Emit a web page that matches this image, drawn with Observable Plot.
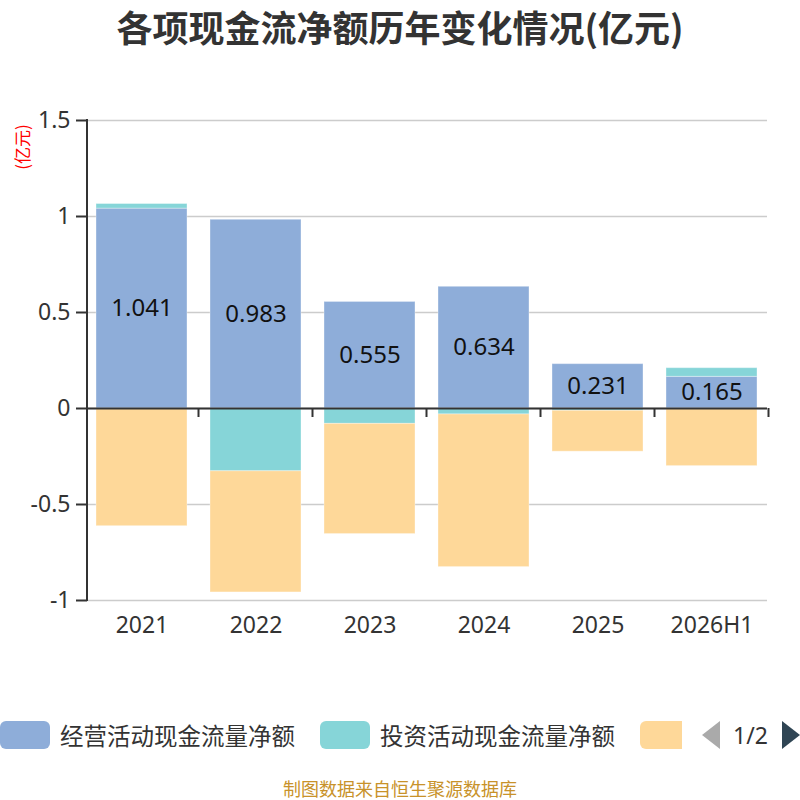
<!DOCTYPE html>
<html>
<head>
<meta charset="utf-8">
<script src="https://cdn.jsdelivr.net/npm/d3@7"></script>
<script src="https://cdn.jsdelivr.net/npm/@observablehq/plot@0.6"></script>
<style>
  body { margin: 0; background: #fff; font-family: "Noto Sans", "Noto Sans CJK SC", sans-serif; }
  #wrap { position: relative; width: 800px; height: 800px; overflow: hidden; }
  #title { position: absolute; top: 0px; left: 0; width: 800px; text-align: center; font-size: 36px; line-height: 52px; font-weight: bold; color: #333; font-family: "Noto Sans CJK SC", sans-serif; }
  #chart { position: absolute; top: 60px; left: 0; }
  #unit { position: absolute; left: 22px; top: 147px; transform: translate(-50%, -50%) rotate(-90deg); color: #f00; font-size: 17px; line-height: 18px; white-space: nowrap; font-family: "Noto Sans CJK SC", sans-serif; }
  #legend { position: absolute; top: 721px; left: 0; width: 800px; height: 28px; font-family: "Noto Sans CJK SC", sans-serif; font-size: 23.5px; color: #333; }
  .item { position: absolute; top: 0; display: flex; align-items: center; height: 28px; white-space: nowrap; }
  .sw { width: 50px; height: 28px; border-radius: 6px; margin-right: 10px; flex: none; }
  #pager { position: absolute; top: 0; left: 702px; height: 28px; display: flex; align-items: center; font-size: 23px; color: #333; font-family: "Noto Sans", sans-serif; }
  #source { position: absolute; top: 778px; left: 0; width: 800px; text-align: center; font-size: 18px; line-height: 20px; color: #c8922a; font-family: "Noto Sans CJK SC", sans-serif; }
</style>
</head>
<body>
<div id="wrap">
  <div id="title"></div>
  <div id="unit"></div>
  <div id="chart"></div>
  <div id="legend"></div>
  <div id="source"></div>
</div>
<script>
const titleText = "各项现金流净额历年变化情况(亿元)";
const unitText = "(亿元)";
const sourceText = "制图数据来自恒生聚源数据库";
const years = ["2021", "2022", "2023", "2024", "2025", "2026H1"];
const seriesNames = ["经营活动现金流量净额", "投资活动现金流量净额", "筹资活动现金流量净额"];
const seriesColors = ["#8eadd9", "#86d5d8", "#fed899"];
const operating = [1.041, 0.983, 0.555, 0.634, 0.231, 0.165];
const investing = [0.024, -0.327, -0.080, -0.031, -0.012, 0.045];
const financing = [-0.613, -0.631, -0.574, -0.795, -0.213, -0.300];
const yTicks = [1.5, 1, 0.5, 0, -0.5, -1];
// legend page 1 of 2: the third entry only shows its swatch
const legendLabelsShown = [true, true, false];

const seriesValues = [operating, investing, financing];
const rows = [];
seriesNames.forEach((s, si) => years.forEach((yr, i) => rows.push({year: yr, series: s, value: seriesValues[si][i]})));
const opRows = years.map((yr, i) => ({year: yr, series: seriesNames[0], value: operating[i]}));

document.getElementById("title").textContent = titleText;
document.getElementById("unit").textContent = unitText;
document.getElementById("source").textContent = sourceText;

// tick marks at band boundaries along the zero line
function bandTicks(index, scales, values, dims) {
  const x = scales.x, y = scales.y;
  const step = x(years[1]) - x(years[0]);
  const bw = typeof x.bandwidth === "function" ? x.bandwidth() : (x.bandwidth ?? step * 0.8);
  const y0 = y(0);
  const g = d3.create("svg:g").attr("stroke", "#333").attr("stroke-width", 2);
  for (const c of years) {
    const xb = x(c) + bw + (step - bw) / 2;
    g.append("line").attr("x1", xb).attr("x2", xb).attr("y1", y0).attr("y2", y0 + 9);
  }
  return g.node();
}
// y axis line on the left edge of the frame
function yAxisLine(index, scales, values, dims) {
  const y = scales.y;
  return d3.create("svg:line")
    .attr("x1", dims.marginLeft).attr("x2", dims.marginLeft)
    .attr("y1", y(yTicks[yTicks.length - 1]) + 1).attr("y2", y(yTicks[0]) - 1)
    .attr("stroke", "#333").attr("stroke-width", 2).node();
}

const plot = Plot.plot({
  width: 800,
  height: 600,
  marginTop: 60,
  marginBottom: 60,
  marginLeft: 87,
  marginRight: 33,
  style: {fontFamily: "'Noto Sans', 'Noto Sans CJK SC', sans-serif", fontSize: "23px", color: "#333", background: "transparent"},
  x: {domain: years, paddingInner: 0.2, paddingOuter: 0.08, label: null},
  y: {domain: [-1, 1.5], label: null},
  color: {domain: seriesNames, range: seriesColors},
  marks: [
    Plot.gridY(yTicks, {stroke: "#ccc", strokeOpacity: 1, strokeWidth: 1.5}),
    Plot.barY(rows, Plot.stackY({x: "year", y: "value", fill: "series", z: "series", order: seriesNames, stroke: "#ffffff", strokeOpacity: 0.35, strokeWidth: 1})),
    Plot.ruleY([0], {stroke: "#333", strokeWidth: 2}),
    bandTicks,
    yAxisLine,
    Plot.axisY(yTicks, {tickFormat: d => d.toString(), tickSize: 11, tickPadding: 6, fontSize: 23, stroke: "#333", strokeWidth: 2, color: "#333"}),
    Plot.axisX({tickSize: 0, tickPadding: 16, fontSize: 23, color: "#333"}),
    Plot.text(opRows, Plot.stackY({x: "year", y: "value", text: d => d.value.toFixed(3), fill: "#111", fontSize: 24}))
  ]
});
document.getElementById("chart").appendChild(plot);

// Legend
const legend = document.getElementById("legend");
const itemLeft = [0, 320, 640];
const swatchWidth = [50, 50, 42];
seriesNames.forEach((s, i) => {
  const it = document.createElement("div");
  it.className = "item";
  it.style.left = itemLeft[i] + "px";
  const sw = document.createElement("div");
  sw.className = "sw";
  sw.style.background = seriesColors[i];
  sw.style.width = swatchWidth[i] + "px";
  if (!legendLabelsShown[i]) sw.style.borderRadius = "6px 0 0 6px";
  it.appendChild(sw);
  if (legendLabelsShown[i]) {
    const tx = document.createElement("span");
    tx.textContent = s;
    it.appendChild(tx);
  }
  legend.appendChild(it);
});
const pager = document.createElement("div");
pager.id = "pager";
pager.innerHTML = '<svg width="18" height="28"><polygon points="18,0 0,14 18,28" fill="#aaa"/></svg><span style="margin:0 14px 0 13px">1/2</span><svg width="18" height="28"><polygon points="0,0 18,14 0,28" fill="#2f4554"/></svg>';
legend.appendChild(pager);
</script>
</body>
</html>
